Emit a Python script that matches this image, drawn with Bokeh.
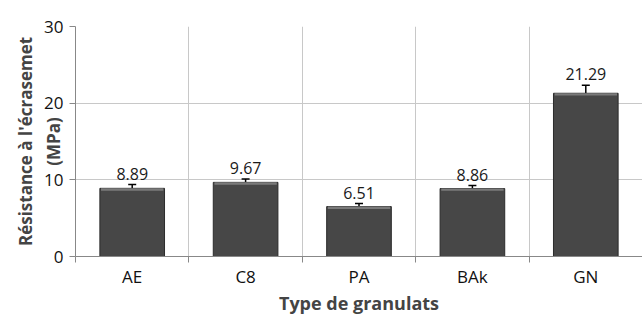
from bokeh.plotting import figure
from bokeh.models import ColumnDataSource, FixedTicker, Whisker, TeeHead, Range1d
from bokeh.core.properties import value
from bokeh.embed import file_html
from bokeh.resources import INLINE

categories = ["AE", "C8", "PA", "BAk", "GN"]
resistance = [8.89, 9.67, 6.51, 8.86, 21.29]
errors = [0.5, 0.45, 0.4, 0.4, 1.05]
y_ticks = [0, 10, 20, 30]

xs = [i + 0.5 for i in range(len(categories))]
src = ColumnDataSource(dict(
    x=xs, top=resistance,
    upper=[v + e for v, e in zip(resistance, errors)],
    lower=[v - e for v, e in zip(resistance, errors)],
    label=[f"{v:.2f}" for v in resistance],
))

FONT = "Open Sans"

p = figure(width=642, height=322, output_backend="svg", toolbar_location=None,
           x_range=Range1d(0, len(categories)), y_range=Range1d(0, 30),
           min_border_left=75, min_border_right=0, min_border_top=26, min_border_bottom=66)
p.outline_line_color = None
p.background_fill_color = "white"
p.border_fill_color = "white"

# bars
p.vbar(x="x", top="top", width=0.57, bottom=0, source=src,
       fill_color="#474747", line_color="#2b2b2b", line_width=1)
# lighter bevel on top
p.vbar(x=xs, top=resistance, bottom=[v - 0.3 for v in resistance], width=0.55,
       fill_color="#7a7a7a", line_color=None)

w = Whisker(base="x", upper="upper", lower="lower", source=src,
            line_color="black", line_width=1.5,
            upper_head=TeeHead(size=8, line_color="black", line_width=1.5),
            lower_head=TeeHead(size=8, line_color="black", line_width=1.5))
p.add_layout(w)

p.text(x="x", y="upper", text="label", source=src, text_align="center",
       text_baseline="bottom", y_offset=-5, text_font=value(FONT),
       text_font_size="16px", text_color="#1a1a1a")

# axes
xa = p.xaxis[0]
xa.ticker = FixedTicker(ticks=xs, minor_ticks=list(range(len(categories) + 1)))
xa.major_label_overrides = {x: c for x, c in zip(xs, categories)}
xa.major_tick_out = 0
xa.major_tick_in = 0
xa.minor_tick_out = 6
xa.minor_tick_in = 0
xa.minor_tick_line_color = "#888888"
xa.axis_line_color = "#888888"
xa.major_label_text_font = FONT
xa.major_label_text_font_size = "17px"
xa.major_label_text_color = "#111111"
xa.major_label_standoff = 2
xa.axis_label = "Type de granulats"
xa.axis_label_text_font = FONT
xa.axis_label_text_font_style = "bold"
xa.axis_label_text_font_size = "18px"
xa.axis_label_standoff = 0

ya = p.yaxis[0]
ya.ticker = FixedTicker(ticks=y_ticks, minor_ticks=[])
ya.major_tick_out = 6
ya.major_tick_in = 0
ya.major_tick_line_color = "#888888"
ya.axis_line_color = "#888888"
ya.major_label_text_font = FONT
ya.major_label_text_font_size = "17px"
ya.major_label_text_color = "#111111"
ya.major_label_standoff = 6
ya.axis_label = "Résistance à l'écrasemet\n(MPa)"
ya.axis_label_text_font = FONT
ya.axis_label_text_font_style = "bold"
ya.axis_label_text_font_size = "17px"
ya.axis_label_standoff = -24

p.xgrid.ticker = FixedTicker(ticks=list(range(len(categories) + 1)))
p.xgrid.grid_line_color = "#c8c8c8"
p.ygrid.ticker = FixedTicker(ticks=y_ticks)
p.ygrid.grid_line_color = "#c8c8c8"

open("out.html", "w").write(file_html(p, INLINE))
